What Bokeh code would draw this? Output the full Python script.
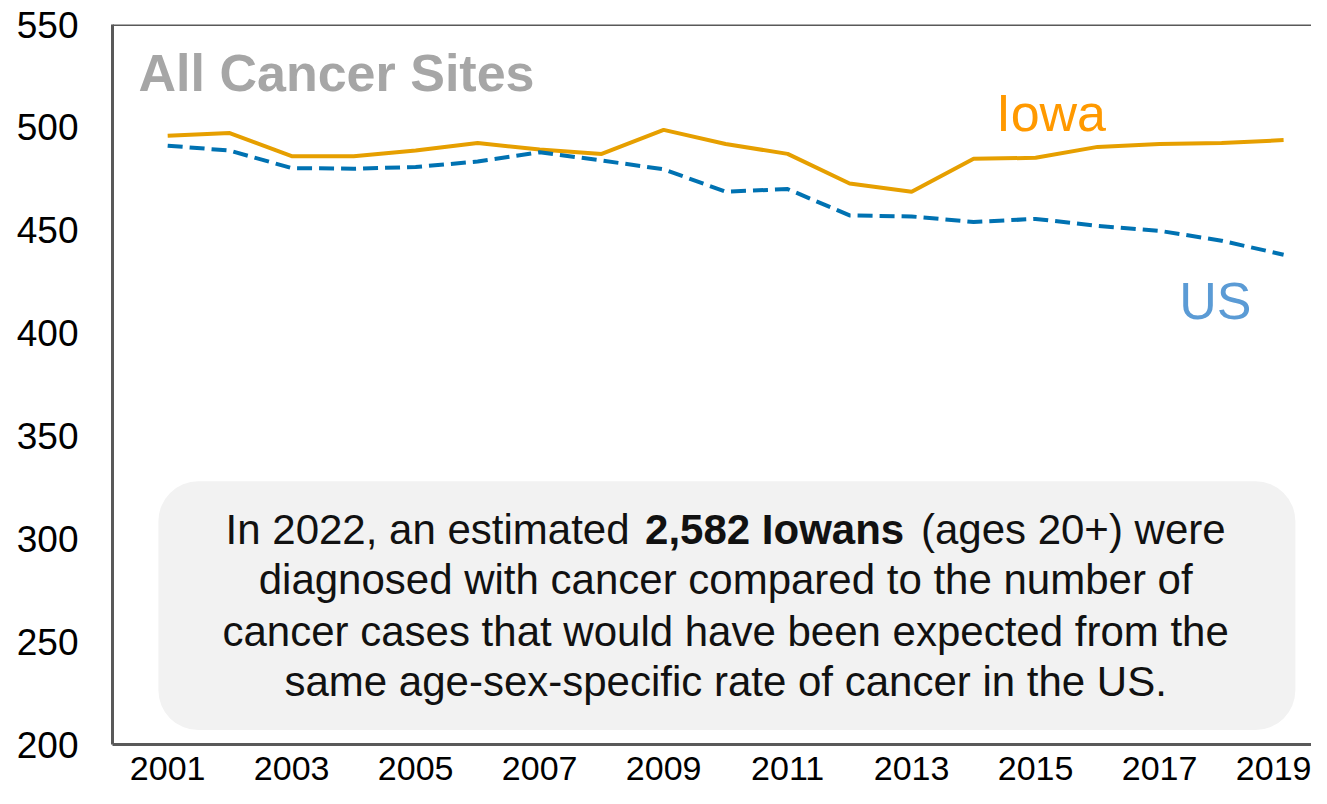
from bokeh.plotting import figure
from bokeh.models import (ColumnDataSource, Range1d, FixedTicker, Label,
                          BoxAnnotation, Span)
from bokeh.embed import file_html
from bokeh.resources import INLINE

# ---- data ----
years = list(range(2001, 2020))
iowa = [495.9, 497.2, 486.0, 486.0, 488.7, 492.4, 489.2, 487.1, 498.8, 491.9,
        487.1, 472.7, 468.7, 484.7, 485.2, 490.5, 491.9, 492.4, 493.8]
us = [491.1, 488.7, 480.2, 479.9, 480.7, 483.4, 487.9, 483.9, 479.6, 468.7,
      470.0, 457.2, 456.7, 454.0, 455.5, 452.1, 449.7, 444.9, 438.1]
x_ticks = [2001, 2003, 2005, 2007, 2009, 2011, 2013, 2015, 2017, 2019]
y_ticks = [200, 250, 300, 350, 400, 450, 500, 550]

title_text = "All Cancer Sites"
note_lines = [
    "diagnosed with cancer compared to the number of",
    "cancer cases that would have been expected from the",
    "same age-sex-specific rate of cancer in the US.",
]

FONT = "Liberation Sans"

p = figure(width=1311, height=788, output_backend="svg", toolbar_location=None,
           x_range=Range1d(2000.11, 2019.45), y_range=Range1d(200, 550),
           min_border_left=112, min_border_top=24, min_border_bottom=44,
           min_border_right=0)
p.outline_line_color = None
p.xgrid.visible = False
p.ygrid.visible = False
p.background_fill_color = "white"
p.border_fill_color = "white"

for ax in (p.xaxis[0], p.yaxis[0]):
    ax.axis_line_color = "#595959"
    ax.axis_line_width = 3
    ax.major_tick_line_color = None
    ax.minor_tick_line_color = None
    ax.major_label_text_font = FONT
    ax.major_label_text_color = "black"

p.xaxis.ticker = FixedTicker(ticks=x_ticks)
p.yaxis.ticker = FixedTicker(ticks=y_ticks)
p.xaxis.major_label_text_font_size = "34px"
p.yaxis.major_label_text_font_size = "37px"
p.xaxis.major_label_standoff = 6
p.yaxis.major_label_standoff = 28

p.add_layout(Span(location=550, dimension="width", line_color="#595959",
                  line_width=3))

# annotation box
p.add_layout(BoxAnnotation(left=2000.85, right=2019.19, bottom=207.0, top=328.0,
                           fill_color="#f2f2f2", fill_alpha=1.0,
                           line_color=None, border_radius=40, level="underlay"))

src = ColumnDataSource(dict(year=years, iowa=iowa, us=us))
p.line("year", "iowa", source=src, line_color="#E69F00", line_width=4)
p.line("year", "us", source=src, line_color="#0072B2", line_width=4,
       line_dash="15 7")

p.add_layout(Label(x=2000.53, y=526.2, text=title_text, text_font=FONT,
                   text_font_size="52px", text_font_style="bold",
                   text_color="#a6a6a6", text_baseline="alphabetic",
                   text_align="left"))
p.add_layout(Label(x=2015.25, y=507.2, text="Iowa", text_font=FONT,
                   text_font_size="52px", text_color="#FF9900",
                   text_baseline="alphabetic", text_align="center"))
p.add_layout(Label(x=2017.9, y=415.8, text="US", text_font=FONT,
                   text_font_size="52px", text_color="#5B9BD5",
                   text_baseline="alphabetic", text_align="center"))

# first line with bold segment
p.add_layout(Label(x=2008.45, y=304.5, text="In 2022, an estimated", text_font=FONT,
                   text_font_size="42px", text_color="#111111",
                   text_baseline="alphabetic", text_align="right"))
p.add_layout(Label(x=2008.70, y=304.5, text="2,582 Iowans", text_font=FONT,
                   text_font_size="42px", text_font_style="bold",
                   text_color="#111111", text_baseline="alphabetic",
                   text_align="left"))
p.add_layout(Label(x=2013.15, y=304.5, text="(ages 20+) were", text_font=FONT,
                   text_font_size="42px", text_color="#111111",
                   text_baseline="alphabetic", text_align="left"))
for yy, t in zip([280.2, 255.0, 230.7], note_lines):
    p.add_layout(Label(x=2010.0, y=yy, text=t, text_font=FONT,
                       text_font_size="42px", text_color="#111111",
                       text_baseline="alphabetic", text_align="center"))

open("out.html", "w").write(file_html(p, INLINE))
